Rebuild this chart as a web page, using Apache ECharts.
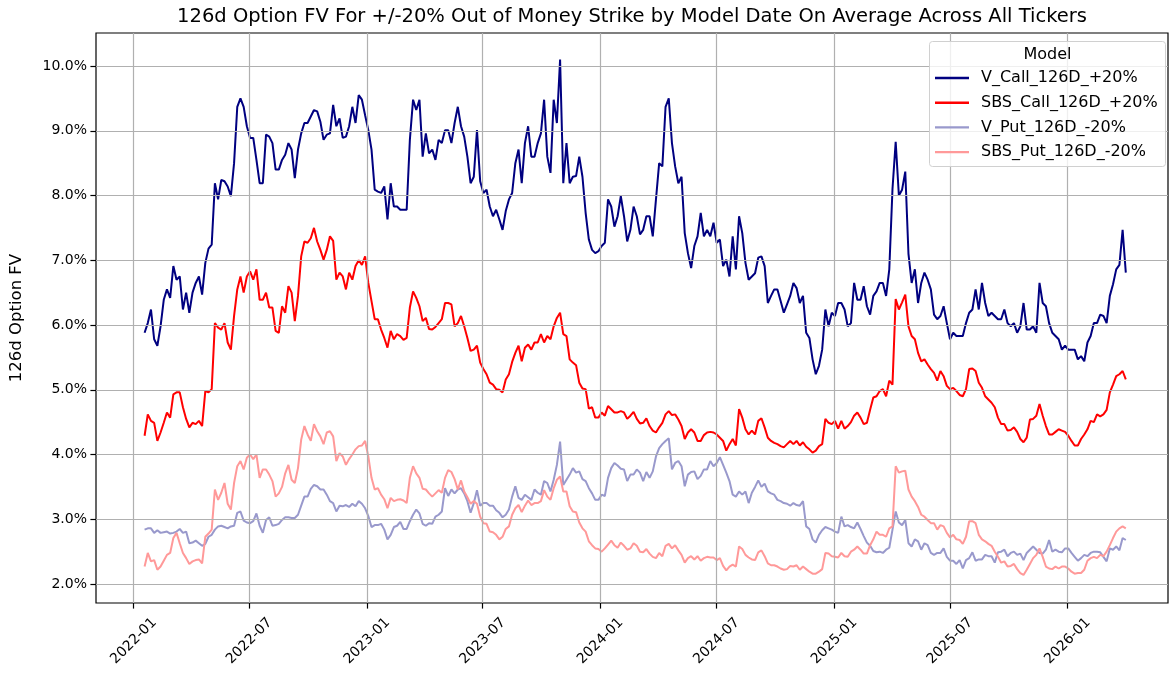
<!DOCTYPE html>
<html>
<head>
<meta charset="utf-8">
<script src="https://cdn.jsdelivr.net/npm/echarts@6/dist/echarts.min.js"></script>
<style>
  html, body { margin: 0; padding: 0; background: #fff; }
  #chart { width: 1169px; height: 677px; }
</style>
</head>
<body>
<div id="chart"></div>
<script>
// Model dates: one reading every 5 days starting here
const startDate = '2022-01-18';
const stepDays = 5;

const seriesNames = ['V_Call_126D_+20%', 'SBS_Call_126D_+20%', 'V_Put_126D_-20%', 'SBS_Put_126D_-20%'];

// values in percent
const vCall = [
  5.88, 6.03, 6.24, 5.78, 5.68, 5.98, 6.39, 6.55, 6.42, 6.91,
  6.70, 6.75, 6.24, 6.50, 6.19, 6.50, 6.65, 6.75, 6.47, 6.96,
  7.18, 7.24, 8.19, 7.94, 8.24, 8.22, 8.14, 7.99, 8.50, 9.37,
  9.50, 9.37, 9.07, 8.89, 8.89, 8.55, 8.19, 8.19, 8.94, 8.91,
  8.81, 8.40, 8.40, 8.55, 8.63, 8.81, 8.71, 8.27, 8.71, 8.96,
  9.12, 9.12, 9.22, 9.32, 9.30, 9.14, 8.86, 8.94, 8.96, 9.40,
  9.07, 9.19, 8.89, 8.91, 9.07, 9.37, 9.12, 9.55, 9.48, 9.24,
  9.01, 8.71, 8.09, 8.06, 8.04, 8.14, 7.63, 8.19, 7.83, 7.83,
  7.78, 7.78, 7.78, 8.86, 9.48, 9.32, 9.48, 8.60, 8.96, 8.65,
  8.71, 8.55, 8.86, 8.81, 9.01, 9.01, 8.81, 9.12, 9.37, 9.07,
  8.91, 8.60, 8.19, 8.29, 9.01, 8.22, 8.04, 8.09, 7.83, 7.68,
  7.78, 7.63, 7.47, 7.76, 7.94, 8.04, 8.50, 8.71, 8.19, 8.81,
  9.07, 8.60, 8.60, 8.81, 8.96, 9.48, 8.60, 8.35, 9.48, 9.12,
  10.10, 8.19, 8.81, 8.19, 8.29, 8.30, 8.60, 8.29, 7.73, 7.32,
  7.16, 7.11, 7.14, 7.22, 7.27, 7.94, 7.83, 7.52, 7.68, 7.99,
  7.68, 7.29, 7.47, 7.83, 7.68, 7.40, 7.47, 7.68, 7.68, 7.37,
  7.94, 8.50, 8.45, 9.37, 9.50, 8.81, 8.45, 8.19, 8.29, 7.42,
  7.11, 6.88, 7.22, 7.37, 7.73, 7.37, 7.47, 7.37, 7.58, 7.27,
  7.32, 6.91, 7.01, 6.75, 7.37, 6.86, 7.68, 7.42, 6.96, 6.70,
  6.75, 6.80, 7.04, 7.06, 6.91, 6.34, 6.45, 6.55, 6.55, 6.37,
  6.19, 6.32, 6.45, 6.65, 6.57, 6.34, 6.45, 5.88, 5.80, 5.47,
  5.24, 5.37, 5.62, 6.24, 5.98, 6.19, 6.14, 6.34, 6.34, 6.24,
  5.98, 6.03, 6.65, 6.39, 6.39, 6.60, 6.29, 6.16, 6.45, 6.52,
  6.65, 6.65, 6.45, 6.86, 8.10, 8.83, 8.00, 8.09, 8.37, 7.10,
  6.65, 6.86, 6.34, 6.65, 6.81, 6.70, 6.55, 6.16, 6.09, 6.14,
  6.29, 6.03, 5.78, 5.88, 5.83, 5.83, 5.83, 6.03, 6.19, 6.24,
  6.55, 6.24, 6.65, 6.34, 6.14, 6.19, 6.14, 6.09, 6.09, 6.24,
  6.03, 5.98, 6.03, 5.88, 5.98, 6.34, 5.93, 5.93, 5.98, 5.88,
  6.65, 6.34, 6.29, 6.03, 5.88, 5.83, 5.78, 5.62, 5.68, 5.62,
  5.62, 5.62, 5.47, 5.52, 5.44, 5.73, 5.83, 6.03, 6.03, 6.16,
  6.14, 6.03, 6.45, 6.63, 6.86, 6.93, 7.47, 6.81
];

const sbsCall = [
  4.29, 4.62, 4.52, 4.49, 4.21, 4.34, 4.49, 4.65, 4.57, 4.93,
  4.96, 4.96, 4.73, 4.55, 4.42, 4.49, 4.47, 4.52, 4.44, 4.98,
  4.96, 5.01, 6.03, 5.96, 5.93, 6.03, 5.73, 5.62, 6.14, 6.55,
  6.75, 6.50, 6.75, 6.83, 6.70, 6.86, 6.39, 6.39, 6.50, 6.27,
  6.27, 5.91, 5.88, 6.29, 6.19, 6.60, 6.50, 6.06, 6.45, 7.06,
  7.29, 7.27, 7.34, 7.50, 7.29, 7.16, 7.01, 7.16, 7.37, 7.30,
  6.70, 6.81, 6.75, 6.55, 6.81, 6.70, 6.91, 7.00, 6.93, 7.06,
  6.65, 6.37, 6.09, 6.09, 5.93, 5.80, 5.65, 5.91, 5.78, 5.86,
  5.83, 5.77, 5.80, 6.27, 6.52, 6.42, 6.29, 6.06, 6.11, 5.94,
  5.93, 5.97, 6.03, 6.09, 6.34, 6.34, 6.32, 5.98, 6.03, 6.14,
  5.98, 5.80, 5.60, 5.62, 5.68, 5.42, 5.32, 5.24, 5.11, 5.08,
  5.01, 5.00, 4.96, 5.16, 5.24, 5.43, 5.57, 5.68, 5.44, 5.65,
  5.70, 5.62, 5.73, 5.73, 5.86, 5.73, 5.83, 5.78, 5.98, 6.11,
  6.19, 5.86, 5.83, 5.47, 5.42, 5.38, 5.11, 5.02, 5.01, 4.71,
  4.73, 4.57, 4.57, 4.65, 4.60, 4.75, 4.70, 4.65, 4.65, 4.67,
  4.65, 4.55, 4.60, 4.66, 4.55, 4.48, 4.49, 4.56, 4.44, 4.37,
  4.34, 4.42, 4.49, 4.62, 4.67, 4.61, 4.62, 4.54, 4.44, 4.24,
  4.34, 4.39, 4.34, 4.21, 4.21, 4.30, 4.34, 4.35, 4.34, 4.31,
  4.26, 4.21, 4.06, 4.16, 4.24, 4.14, 4.70, 4.57, 4.39, 4.31,
  4.37, 4.31, 4.52, 4.56, 4.42, 4.26, 4.21, 4.18, 4.16, 4.13,
  4.11, 4.16, 4.21, 4.16, 4.21, 4.14, 4.19, 4.12, 4.08, 4.03,
  4.06, 4.13, 4.16, 4.55, 4.49, 4.47, 4.52, 4.40, 4.52, 4.40,
  4.44, 4.50, 4.60, 4.65, 4.57, 4.47, 4.49, 4.69, 4.88, 4.90,
  4.98, 5.01, 4.90, 5.14, 5.08, 6.40, 6.24, 6.35, 6.47, 5.98,
  5.83, 5.78, 5.57, 5.44, 5.47, 5.39, 5.32, 5.26, 5.14, 5.29,
  5.21, 5.06, 5.01, 5.03, 4.98, 4.92, 4.90, 5.01, 5.32, 5.33,
  5.29, 5.11, 5.03, 4.90, 4.85, 4.80, 4.73, 4.57, 4.47, 4.47,
  4.37, 4.38, 4.42, 4.35, 4.24, 4.19, 4.26, 4.54, 4.55, 4.60,
  4.78, 4.60, 4.44, 4.31, 4.31, 4.35, 4.39, 4.37, 4.35, 4.29,
  4.21, 4.14, 4.14, 4.24, 4.31, 4.39, 4.52, 4.50, 4.62, 4.59,
  4.62, 4.69, 4.96, 5.08, 5.21, 5.24, 5.29, 5.16
];

const vPut = [
  2.84, 2.86, 2.86, 2.79, 2.83, 2.79, 2.80, 2.81, 2.78, 2.79,
  2.81, 2.85, 2.79, 2.81, 2.63, 2.64, 2.67, 2.63, 2.59, 2.62,
  2.73, 2.76, 2.84, 2.89, 2.90, 2.88, 2.86, 2.89, 2.90, 3.10,
  3.12, 2.98, 2.95, 2.94, 2.97, 3.09, 2.90, 2.79, 2.99, 3.03,
  2.90, 2.91, 2.93, 2.99, 3.03, 3.03, 3.02, 3.02, 3.07, 3.21,
  3.35, 3.35, 3.47, 3.53, 3.51, 3.46, 3.46, 3.38, 3.28, 3.25,
  3.12, 3.21, 3.20, 3.22, 3.19, 3.24, 3.20, 3.28, 3.24, 3.17,
  3.05, 2.88, 2.91, 2.91, 2.93, 2.84, 2.69, 2.76, 2.88, 2.90,
  2.96, 2.85, 2.85, 2.97, 3.07, 3.15, 3.09, 2.93, 2.90, 2.94,
  2.93, 3.04, 3.07, 3.12, 3.48, 3.36, 3.46, 3.40, 3.46, 3.48,
  3.40, 3.28, 3.10, 3.25, 3.45, 3.21, 3.25, 3.25, 3.21, 3.21,
  3.14, 3.10, 3.03, 3.07, 3.15, 3.35, 3.51, 3.33, 3.30, 3.38,
  3.34, 3.30, 3.46, 3.41, 3.38, 3.59, 3.56, 3.43, 3.61, 3.84,
  4.20, 3.53, 3.61, 3.69, 3.79, 3.72, 3.74, 3.62, 3.59, 3.48,
  3.40, 3.30, 3.30, 3.38, 3.36, 3.64, 3.79, 3.87, 3.83, 3.78,
  3.77, 3.59, 3.69, 3.69, 3.77, 3.72, 3.59, 3.73, 3.64, 3.74,
  3.97, 4.10, 4.16, 4.21, 4.25, 3.77, 3.87, 3.90, 3.82, 3.51,
  3.69, 3.73, 3.74, 3.62, 3.67, 3.77, 3.77, 3.90, 3.82, 3.87,
  3.96, 3.84, 3.72, 3.59, 3.38, 3.35, 3.43, 3.38, 3.43, 3.25,
  3.41, 3.50, 3.60, 3.50, 3.55, 3.43, 3.40, 3.38, 3.30, 3.28,
  3.25, 3.24, 3.21, 3.25, 3.22, 3.21, 3.28, 2.89, 2.85, 2.69,
  2.64, 2.76, 2.83, 2.88, 2.86, 2.84, 2.81, 2.79, 3.04, 2.89,
  2.91, 2.88, 2.86, 2.95, 2.85, 2.74, 2.64, 2.59, 2.51, 2.49,
  2.50, 2.48, 2.53, 2.56, 2.84, 3.12, 2.95, 2.91, 2.99, 2.63,
  2.58, 2.69, 2.66, 2.53, 2.63, 2.60, 2.48, 2.45, 2.48, 2.48,
  2.55, 2.42, 2.36, 2.36, 2.31, 2.37, 2.24, 2.37, 2.40, 2.49,
  2.36, 2.38, 2.38, 2.45, 2.43, 2.43, 2.33, 2.49, 2.50, 2.53,
  2.43, 2.48, 2.50, 2.45, 2.47, 2.37, 2.48, 2.53, 2.58, 2.53,
  2.48, 2.47, 2.53, 2.68, 2.50, 2.53, 2.50, 2.49, 2.55, 2.55,
  2.48, 2.42, 2.36, 2.40, 2.45, 2.43, 2.48, 2.50, 2.50, 2.49,
  2.42, 2.35, 2.55, 2.53, 2.58, 2.52, 2.71, 2.68
];

const sbsPut = [
  2.27, 2.48, 2.35, 2.37, 2.22, 2.27, 2.36, 2.45, 2.48, 2.71,
  2.79, 2.63, 2.48, 2.40, 2.31, 2.35, 2.37, 2.38, 2.32, 2.73,
  2.78, 2.84, 3.46, 3.30, 3.41, 3.56, 3.24, 3.15, 3.56, 3.82,
  3.90, 3.77, 3.95, 4.00, 3.93, 4.00, 3.64, 3.77, 3.77, 3.69,
  3.59, 3.35, 3.40, 3.50, 3.71, 3.84, 3.61, 3.56, 3.79, 4.23,
  4.44, 4.31, 4.21, 4.47, 4.36, 4.28, 4.16, 4.34, 4.36, 4.28,
  3.90, 4.02, 3.97, 3.84, 3.93, 4.00, 4.08, 4.13, 4.14, 4.21,
  3.97, 3.64, 3.46, 3.48, 3.38, 3.31, 3.17, 3.33, 3.28, 3.30,
  3.31, 3.29, 3.25, 3.64, 3.82, 3.71, 3.64, 3.47, 3.46, 3.40,
  3.35, 3.40, 3.45, 3.41, 3.64, 3.76, 3.73, 3.62, 3.46, 3.60,
  3.43, 3.34, 3.24, 3.28, 3.24, 3.04, 2.94, 2.93, 2.81, 2.80,
  2.76, 2.69, 2.73, 2.85, 2.89, 3.07, 3.17, 3.22, 3.11, 3.21,
  3.29, 3.22, 3.25, 3.25, 3.28, 3.45, 3.35, 3.30, 3.48, 3.61,
  3.66, 3.43, 3.43, 3.20, 3.12, 3.11, 2.95, 2.86, 2.81, 2.66,
  2.60, 2.55, 2.54, 2.50, 2.55, 2.61, 2.67, 2.60, 2.56, 2.64,
  2.59, 2.53, 2.55, 2.63, 2.59, 2.50, 2.49, 2.54, 2.47, 2.42,
  2.40, 2.48, 2.43, 2.59, 2.62, 2.55, 2.60, 2.52, 2.45, 2.33,
  2.40, 2.43, 2.38, 2.43, 2.36, 2.40, 2.42, 2.41, 2.41, 2.37,
  2.40, 2.28, 2.21, 2.27, 2.30, 2.27, 2.58, 2.54, 2.45, 2.41,
  2.38, 2.37, 2.49, 2.52, 2.43, 2.32, 2.29, 2.29, 2.27, 2.24,
  2.22, 2.23, 2.28, 2.27, 2.29, 2.22, 2.27, 2.23, 2.19, 2.16,
  2.16, 2.19, 2.23, 2.48, 2.47, 2.43, 2.42, 2.41, 2.48, 2.43,
  2.42, 2.50, 2.53, 2.58, 2.53, 2.47, 2.47, 2.60, 2.69, 2.81,
  2.76, 2.76, 2.73, 2.86, 2.89, 3.82, 3.72, 3.74, 3.75, 3.46,
  3.35, 3.28, 3.19, 3.07, 3.04, 2.99, 2.94, 2.94, 2.84, 2.91,
  2.89, 2.79, 2.72, 2.76, 2.69, 2.68, 2.62, 2.73, 2.97, 2.97,
  2.94, 2.76, 2.69, 2.66, 2.62, 2.59, 2.50, 2.42, 2.33, 2.35,
  2.27, 2.28, 2.31, 2.23, 2.17, 2.14, 2.22, 2.31, 2.40, 2.45,
  2.55, 2.42, 2.27, 2.24, 2.23, 2.27, 2.24, 2.27, 2.27, 2.24,
  2.19, 2.16, 2.17, 2.17, 2.22, 2.36, 2.40, 2.42, 2.40, 2.45,
  2.43, 2.50, 2.60, 2.71, 2.81, 2.86, 2.89, 2.86
];

const xTickLabels = ['2022-01', '2022-07', '2023-01', '2023-07', '2024-01', '2024-07', '2025-01', '2025-07', '2026-01'];
const yTickValues = [2, 3, 4, 5, 6, 7, 8, 9, 10];

const FONT = 'DejaVu Sans';
const DAY = 86400000;

function monthStart(label) {
  const [y, m] = label.split('-').map(Number);
  return Date.UTC(y, m - 1, 1);
}

function withDates(values) {
  const t0 = Date.parse(startDate + 'T00:00:00Z');
  return values.map((v, i) => [t0 + i * stepDays * DAY, v]);
}

const xTickValues = xTickLabels.map(monthStart);

function lineSeries(name, values, color) {
  return {
    name,
    type: 'line',
    data: withDates(values),
    symbol: 'none',
    showSymbol: false,
    z: 2,
    lineStyle: { color, width: 2 },
    itemStyle: { color },
    emphasis: { disabled: true }
  };
}

const gridSeries = {
  name: 'gridlines',
  type: 'line',
  data: [],
  silent: true,
  z: 1,
  markLine: {
    silent: true,
    animation: false,
    symbol: ['none', 'none'],
    label: { show: false },
    emphasis: { disabled: true },
    lineStyle: { color: '#b0b0b0', width: 1.2, type: 'solid' },
    data: [
      ...xTickValues.map((t) => ({ xAxis: t })),
      ...yTickValues.map((v) => ({ yAxis: v }))
    ]
  }
};

const chart = echarts.init(document.getElementById('chart'));

chart.setOption({
  animation: false,
  textStyle: { fontFamily: FONT, color: '#000' },
  title: {
    text: '126d Option FV For +/-20% Out of Money Strike by Model Date On Average Across All Tickers',
    left: 632,
    top: 7,
    textAlign: 'center',
    padding: 0,
    textStyle: { fontFamily: FONT, fontSize: 19.5, fontWeight: 'normal', color: '#000' }
  },
  grid: {
    left: 96, right: 1, top: 33, bottom: 74,
    show: true, borderColor: '#000', borderWidth: 1.2,
    outerBoundsMode: 'none'
  },
  legend: {
    data: seriesNames,
    orient: 'vertical',
    left: 935,
    top: 70,
    padding: 0,
    icon: 'rect',
    itemWidth: 34,
    itemHeight: 2.4,
    itemGap: 8.7,
    z: 60,
    textStyle: { fontFamily: FONT, fontSize: 16, color: '#000', lineHeight: 16, padding: [0, 0, 0, 7] }
  },
  graphic: [
    {
      type: 'rect', z: 50,
      shape: { x: 929.5, y: 41.5, width: 236, height: 125, r: 3 },
      style: { fill: 'rgba(255,255,255,0.8)', stroke: '#d0d0d0', lineWidth: 1 }
    },
    {
      type: 'text', z: 51, x: 1047.5, y: 55,
      style: { text: 'Model', font: '16px "DejaVu Sans"', fill: '#000', textAlign: 'center', textVerticalAlign: 'middle' }
    }
  ],
  xAxis: {
    type: 'value',
    min: Date.UTC(2021, 10, 3),
    max: Date.UTC(2026, 5, 7),
    scale: true,
    splitLine: { show: false },
    axisLine: { show: false },
    axisTick: { show: true, customValues: xTickValues, length: 5.6, lineStyle: { color: '#000', width: 1.2 } },
    axisLabel: {
      customValues: xTickValues,
      rotate: 45,
      align: 'center',
      verticalAlign: 'middle',
      margin: 38,
      fontFamily: FONT,
      fontSize: 14,
      color: '#000',
      formatter: (v) => xTickLabels[xTickValues.indexOf(v)] || ''
    }
  },
  yAxis: {
    type: 'value',
    min: 1.707,
    max: 10.51,
    name: '126d Option FV',
    nameLocation: 'middle',
    nameGap: 71,
    nameTextStyle: { fontFamily: FONT, fontSize: 16.5, color: '#000' },
    splitLine: { show: false },
    axisLine: { show: false },
    axisTick: { show: true, customValues: yTickValues, length: 5.6, lineStyle: { color: '#000', width: 1.2 } },
    axisLabel: {
      customValues: yTickValues,
      margin: 9,
      fontFamily: FONT,
      fontSize: 14,
      color: '#000',
      formatter: (v) => v.toFixed(1) + '%'
    }
  },
  series: [
    gridSeries,
    lineSeries(seriesNames[0], vCall, '#000080'),
    lineSeries(seriesNames[1], sbsCall, '#ff0000'),
    lineSeries(seriesNames[2], vPut, '#9999cc'),
    lineSeries(seriesNames[3], sbsPut, '#ff9999')
  ]
});

window.addEventListener('resize', () => chart.resize());
</script>
</body>
</html>
